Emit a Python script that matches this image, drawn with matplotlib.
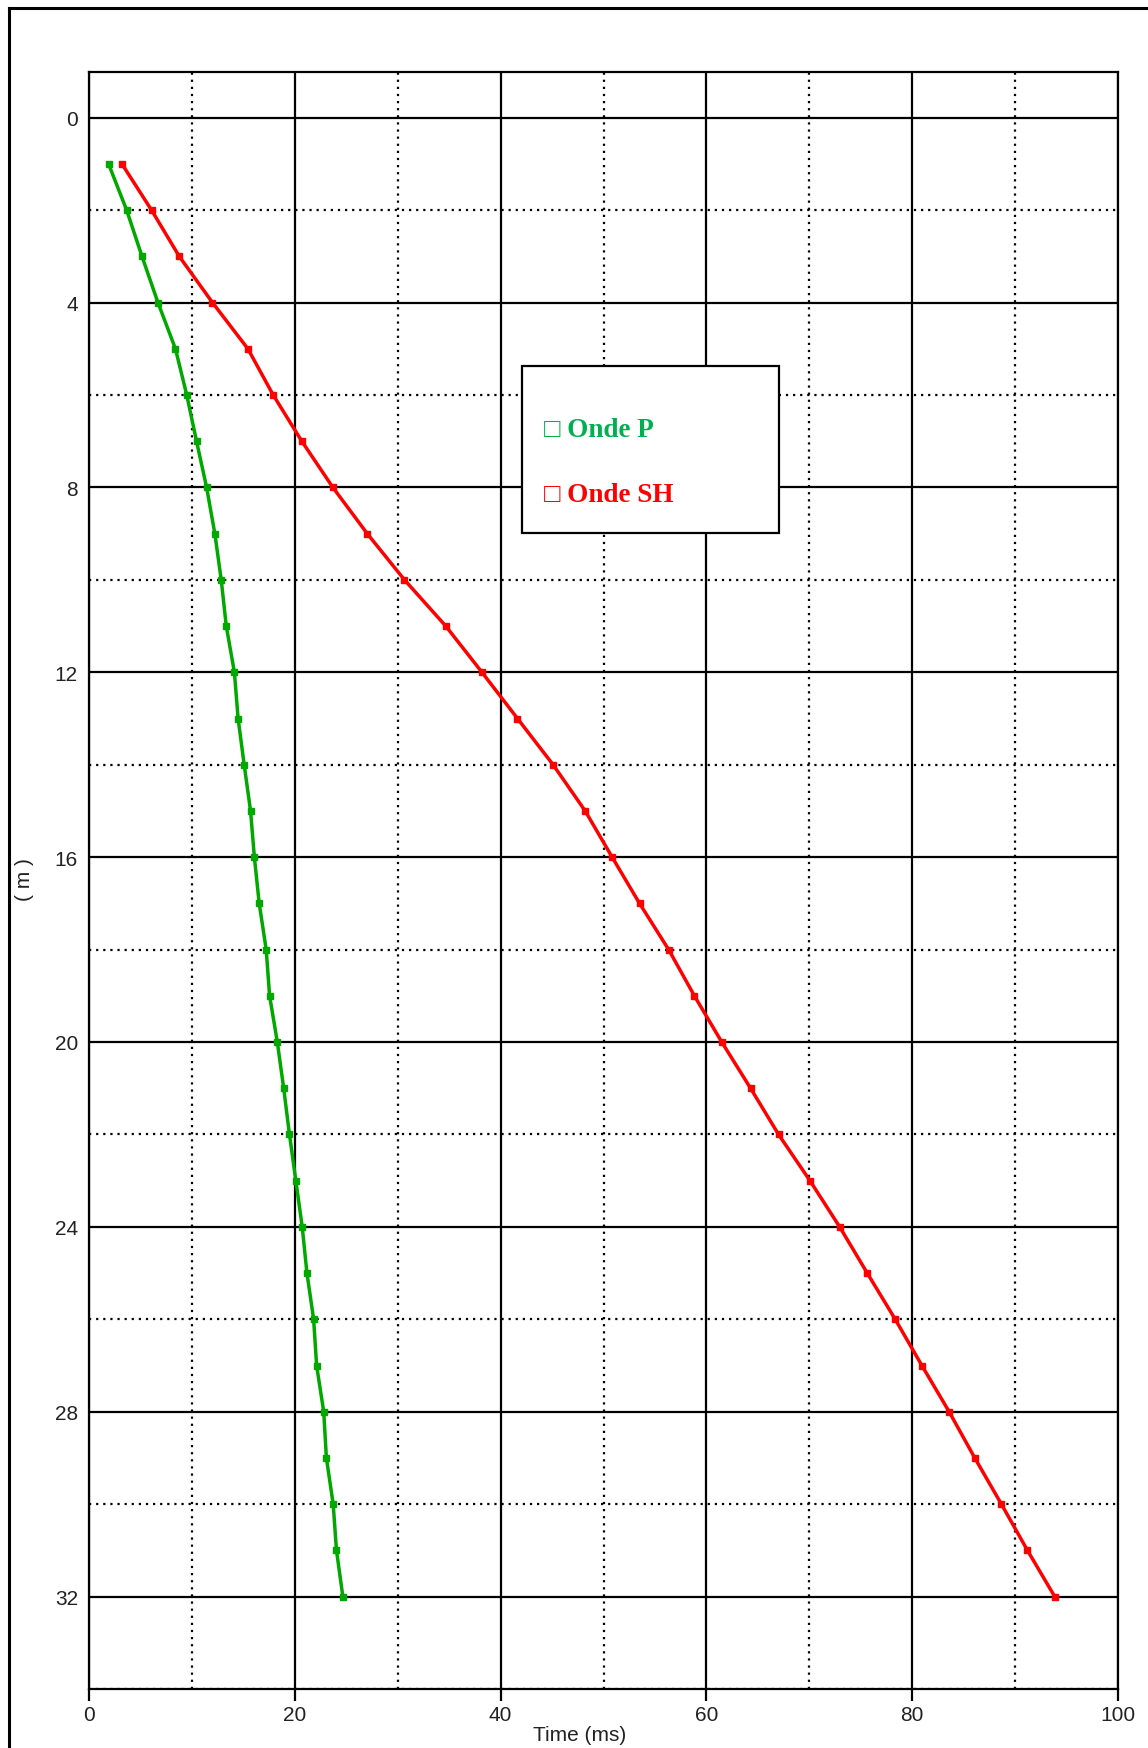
import matplotlib
matplotlib.use("Agg")
import matplotlib.pyplot as plt
from matplotlib.patches import Rectangle
from matplotlib.lines import Line2D
from matplotlib.ticker import MultipleLocator

# depth (m) and first-arrival times (ms)
depth = list(range(1, 33))
time_p = [1.9, 3.66, 5.15, 6.7, 8.4, 9.5, 10.45, 11.43, 12.23, 12.85, 13.34,
          14.13, 14.49, 15.08, 15.7, 16.07, 16.54, 17.22, 17.55, 18.3, 18.92,
          19.48, 20.1, 20.72, 21.18, 21.83, 22.12, 22.81, 23.07, 23.73, 24.05,
          24.67]
time_sh = [3.2, 6.08, 8.77, 12.0, 15.44, 17.9, 20.68, 23.7, 27.04, 30.66,
           34.67, 38.19, 41.64, 45.1, 48.22, 50.84, 53.5, 56.33, 58.83, 61.49,
           64.29, 67.01, 70.06, 72.95, 75.63, 78.35, 80.94, 83.59, 86.08,
           88.67, 91.2, 93.85]

x_major = [0, 20, 40, 60, 80, 100]
y_major = [0, 4, 8, 12, 16, 20, 24, 28, 32]
legend_labels = ["\u25a1 Onde P", "\u25a1 Onde SH"]

plt.rcParams["font.family"] = ["Liberation Sans", "DejaVu Sans"]

W, H = 1148, 1749
fig = plt.figure(figsize=(W / 100, H / 100), dpi=100)
fig.patch.set_facecolor("white")

# outer frame (only left and top edges show in the picture)
fig.add_artist(Line2D([9 / W, 9 / W], [0, 1 - 9 / H], color="black", lw=2.2,
                      transform=fig.transFigure))
fig.add_artist(Line2D([9 / W, 1.01], [1 - 9 / H, 1 - 9 / H], color="black",
                      lw=2.2, transform=fig.transFigure))

ax = fig.add_axes([89 / W, 1 - 1690 / H, 1029 / W, 1617.5 / H])
ax.set_xlim(0, 100)
ax.set_ylim(34, -1)

# grid: solid majors, dotted minors
ax.xaxis.set_minor_locator(MultipleLocator(10))
ax.yaxis.set_minor_locator(MultipleLocator(2))
ax.set_xticks(x_major)
ax.set_yticks(y_major)
ax.grid(which="major", color="black", lw=1.6, ls="-")
ax.grid(which="minor", color="black", lw=1.6, ls=(0, (1, 2.2)))
ax.set_axisbelow(True)

for s in ax.spines.values():
    s.set_linewidth(1.6)
    s.set_color("black")

ax.tick_params(axis="x", which="major", direction="out", length=8.5, width=1.6,
               pad=3, labelsize=15, labelcolor="#222222")
ax.tick_params(axis="y", which="major", length=0, pad=8, labelsize=15,
               labelcolor="#222222")
ax.tick_params(which="minor", length=0)

ax.plot(time_p, depth, "-s", color="#00a800", lw=2.5, ms=5, clip_on=False,
        zorder=3)
ax.plot(time_sh, depth, "-s", color="#ff0000", lw=2.5, ms=5, clip_on=False,
        zorder=3)

ax.set_xlabel("Time (ms)", fontsize=15, color="#222222")
ax.xaxis.label.set_verticalalignment("center")
ax.xaxis.set_label_coords((580 - 89) / 1029, -(1736 - 1690) / 1617.5)
ax.set_ylabel("( m )", fontsize=15, color="#222222")
ax.yaxis.set_label_coords(-(89 - 34) / 1029, (1690 - 880) / 1617.5)

# legend box
bx0, bx1 = (522 - 89) / 1029, (779 - 89) / 1029
by0, by1 = (1690 - 534) / 1617.5, (1690 - 367) / 1617.5
ax.add_patch(Rectangle((bx0, by0), bx1 - bx0, by1 - by0, transform=ax.transAxes,
                       facecolor="white", edgecolor="black", lw=1.6, zorder=5))
ax.text((544 - 89) / 1029, (1690 - 437) / 1617.5, legend_labels[0],
        transform=ax.transAxes, color="#00b050", fontsize=19.5, fontweight="bold",
        family=["Liberation Serif", "DejaVu Sans"], va="baseline", zorder=6)
ax.text((544 - 89) / 1029, (1690 - 502) / 1617.5, legend_labels[1],
        transform=ax.transAxes, color="#ff0000", fontsize=19.5, fontweight="bold",
        family=["Liberation Serif", "DejaVu Sans"], va="baseline", zorder=6)

plt.savefig("out.png", dpi=100)
